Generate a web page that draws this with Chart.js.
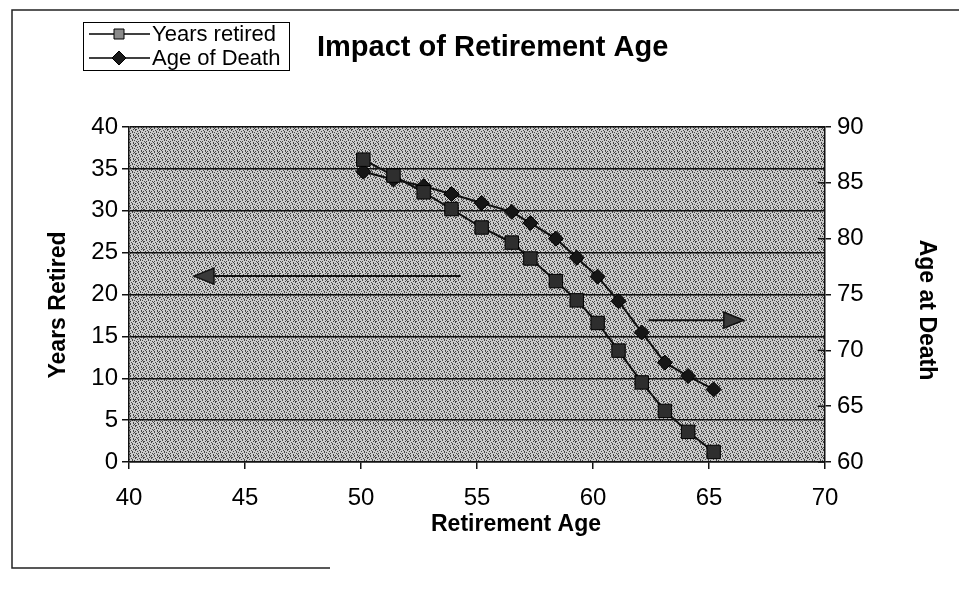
<!DOCTYPE html>
<html>
<head>
<meta charset="utf-8">
<script src="https://cdn.jsdelivr.net/npm/chart.js@4"></script>
<style>
  html, body { margin: 0; padding: 0; background: #fff; }
  #wrap { width: 959px; height: 589px; }
</style>
</head>
<body>
<div id="wrap"><canvas id="retChart" width="959" height="589"></canvas></div>
<script>
// values
const retireAge = [50.1, 51.4, 52.7, 53.9, 55.2, 56.5, 57.3, 58.4, 59.3, 60.2, 61.1, 62.1, 63.1, 64.1, 65.2];
const yearsRetired = [36.1, 34.2, 32.2, 30.2, 28.0, 26.2, 24.3, 21.6, 19.3, 16.6, 13.3, 9.5, 6.1, 3.6, 1.2];
const deathAge = [86.0, 85.3, 84.7, 84.0, 83.2, 82.4, 81.4, 80.0, 78.3, 76.6, 74.4, 71.6, 68.9, 67.7, 66.5];

const xTicks = [40, 45, 50, 55, 60, 65, 70];
const leftTicks = [0, 5, 10, 15, 20, 25, 30, 35, 40];
const rightTicks = [60, 65, 70, 75, 80, 85, 90];

// arrow annotations, in data units: [xFrom, xTo, y]
const arrowLeft = [54.3, 42.8, 22.2];   // on the Years Retired axis
const arrowRight = [62.4, 66.5, 72.7];  // on the Age at Death axis

const FONT = "'Liberation Sans', Arial, sans-serif";

function toPoints(xs, ys) {
  return xs.map((x, i) => ({ x: x, y: ys[i] }));
}

// stipple texture for the plot area
function makeStipple(ctx) {
  const tile = [
    "..x...x.",
    "x....x.x",
    "...x...x",
    ".x..x...",
    "....x.x.",
    "x.x.....",
    ".x...x..",
    "..x..x.x",
  ];
  const c = document.createElement("canvas");
  c.width = 8; c.height = 8;
  const t = c.getContext("2d");
  t.fillStyle = "#cbcbcb";
  t.fillRect(0, 0, 8, 8);
  t.fillStyle = "#454545";
  tile.forEach((row, r) => {
    for (let k = 0; k < row.length; k++) {
      if (row[k] === "x") t.fillRect(k, r, 1, 1);
    }
  });
  return ctx.createPattern(c, "repeat");
}

function drawArrow(ctx, x1, x2, y, dir) {
  const headLen = 20;
  ctx.save();
  ctx.strokeStyle = "#111";
  ctx.lineWidth = 2;
  ctx.beginPath();
  ctx.moveTo(x1, y);
  ctx.lineTo(x2 - dir * headLen, y);
  ctx.stroke();
  ctx.beginPath();
  ctx.moveTo(x2, y);
  ctx.lineTo(x2 - dir * headLen, y - 8);
  ctx.lineTo(x2 - dir * headLen, y + 8);
  ctx.closePath();
  ctx.fillStyle = "#3a3a3a";
  ctx.fill();
  ctx.lineWidth = 1.5;
  ctx.stroke();
  ctx.restore();
}

function vText(ctx, text, x, y, rot) {
  ctx.save();
  ctx.translate(x, y);
  ctx.rotate(rot);
  ctx.textAlign = "center";
  ctx.textBaseline = "middle";
  ctx.fillText(text, 0, 0);
  ctx.restore();
}

const decor = {
  id: "decor",
  beforeDraw(chart) {
    const { ctx, chartArea: a } = chart;
    ctx.save();
    ctx.fillStyle = "#fff";
    ctx.fillRect(0, 0, chart.width, chart.height);
    ctx.fillStyle = makeStipple(ctx);
    ctx.fillRect(a.left, a.top, a.right - a.left, a.bottom - a.top);
    // outer frame of the chart
    ctx.strokeStyle = "#222";
    ctx.lineWidth = 1.5;
    ctx.beginPath();
    ctx.moveTo(959, 10);
    ctx.lineTo(12, 10);
    ctx.lineTo(12, 568);
    ctx.lineTo(330, 568);
    ctx.stroke();
    ctx.restore();
  },
  afterDatasetsDraw(chart) {
    const { ctx, scales } = chart;
    const x = scales.x, yl = scales.yLeft, yr = scales.yRight;
    drawArrow(ctx, x.getPixelForValue(arrowLeft[0]), x.getPixelForValue(arrowLeft[1]), yl.getPixelForValue(arrowLeft[2]), -1);
    drawArrow(ctx, x.getPixelForValue(arrowRight[0]), x.getPixelForValue(arrowRight[1]), yr.getPixelForValue(arrowRight[2]), 1);

    // inner half of the right axis ticks
    ctx.save();
    ctx.strokeStyle = "#111";
    ctx.lineWidth = 1.5;
    rightTicks.forEach(v => {
      const py = yr.getPixelForValue(v);
      ctx.beginPath();
      ctx.moveTo(chart.chartArea.right - 7, py);
      ctx.lineTo(chart.chartArea.right, py);
      ctx.stroke();
    });
    ctx.restore();

    ctx.save();
    ctx.fillStyle = "#000";
    // axis titles
    ctx.font = "bold 23px " + FONT;
    ctx.textAlign = "center";
    ctx.textBaseline = "middle";
    ctx.fillText("Retirement Age", 516, 525);
    vText(ctx, "Years Retired", 59, 305, -Math.PI / 2);
    vText(ctx, "Age at Death", 926, 310, Math.PI / 2);

    // title
    ctx.textAlign = "left";
    ctx.font = "bold 29px " + FONT;
    ctx.fillText("Impact of Retirement Age", 317, 48);

    // legend box
    ctx.strokeStyle = "#000";
    ctx.lineWidth = 1;
    ctx.strokeRect(83.5, 22.5, 206, 48);
    ctx.font = "22px " + FONT;
    const rows = [["Years retired", 34, "sq"], ["Age of Death", 58, "dm"]];
    rows.forEach(([label, y, m]) => {
      ctx.lineWidth = 1.5;
      ctx.beginPath();
      ctx.moveTo(89, y);
      ctx.lineTo(150, y);
      ctx.stroke();
      ctx.beginPath();
      if (m === "sq") {
        ctx.rect(114, y - 5, 10, 10);
        ctx.fillStyle = "#8a8a8a";
      } else {
        ctx.moveTo(119, y - 7);
        ctx.lineTo(126, y);
        ctx.lineTo(119, y + 7);
        ctx.lineTo(112, y);
        ctx.closePath();
        ctx.fillStyle = "#1a1a1a";
      }
      ctx.fill();
      ctx.lineWidth = 1;
      ctx.stroke();
      ctx.fillStyle = "#000";
      ctx.fillText(label, 152, y + 1);
    });
    ctx.restore();
  },
};

const tickFont = { family: FONT, size: 24 };

const ctx = document.getElementById("retChart").getContext("2d");
new Chart(ctx, {
  type: "line",
  data: {
    datasets: [
      {
        label: "Years retired",
        data: toPoints(retireAge, yearsRetired),
        yAxisID: "yLeft",
        borderColor: "#111",
        borderWidth: 2,
        pointStyle: "rect",
        pointRadius: 9.5,
        pointBackgroundColor: "#2e2e2e",
        pointBorderColor: "#000",
        pointBorderWidth: 1,
        tension: 0,
      },
      {
        label: "Age of Death",
        data: toPoints(retireAge, deathAge),
        yAxisID: "yRight",
        borderColor: "#111",
        borderWidth: 2,
        pointStyle: "rectRot",
        pointRadius: 7.5,
        pointBackgroundColor: "#161616",
        pointBorderColor: "#000",
        pointBorderWidth: 1,
        tension: 0,
      },
    ],
  },
  options: {
    responsive: false,
    animation: false,
    layout: { padding: { top: 127, left: 0, right: 0, bottom: 0 } },
    plugins: {
      legend: { display: false },
      tooltip: { enabled: false },
    },
    scales: {
      x: {
        type: "linear",
        min: xTicks[0],
        max: xTicks[xTicks.length - 1],
        afterBuildTicks: (s) => { s.ticks = xTicks.map(v => ({ value: v })); },
        afterFit: (s) => { s.height = 589 - 462; },
        ticks: { color: "#000", font: tickFont, padding: 15, maxRotation: 0 },
        grid: { drawOnChartArea: false, drawTicks: true, tickLength: 7, color: "#111", lineWidth: 1.5 },
        border: { display: true, color: "#111", width: 1.5 },
      },
      yLeft: {
        type: "linear",
        position: "left",
        min: leftTicks[0],
        max: leftTicks[leftTicks.length - 1],
        afterBuildTicks: (s) => { s.ticks = leftTicks.map(v => ({ value: v })); },
        afterFit: (s) => { s.width = 129; },
        ticks: { color: "#000", font: tickFont, padding: 4 },
        grid: { drawOnChartArea: true, drawTicks: true, tickLength: 7, color: "#111", lineWidth: 1.5 },
        border: { display: true, color: "#111", width: 1.5 },
      },
      yRight: {
        type: "linear",
        position: "right",
        min: rightTicks[0],
        max: rightTicks[rightTicks.length - 1],
        afterBuildTicks: (s) => { s.ticks = rightTicks.map(v => ({ value: v })); },
        afterFit: (s) => { s.width = 959 - 825; },
        ticks: { color: "#000", font: tickFont, padding: 6 },
        grid: { drawOnChartArea: false, drawTicks: true, tickLength: 6, color: "#111", lineWidth: 1.5 },
        border: { display: true, color: "#111", width: 1.5 },
      },
    },
  },
  plugins: [decor],
});
</script>
</body>
</html>
